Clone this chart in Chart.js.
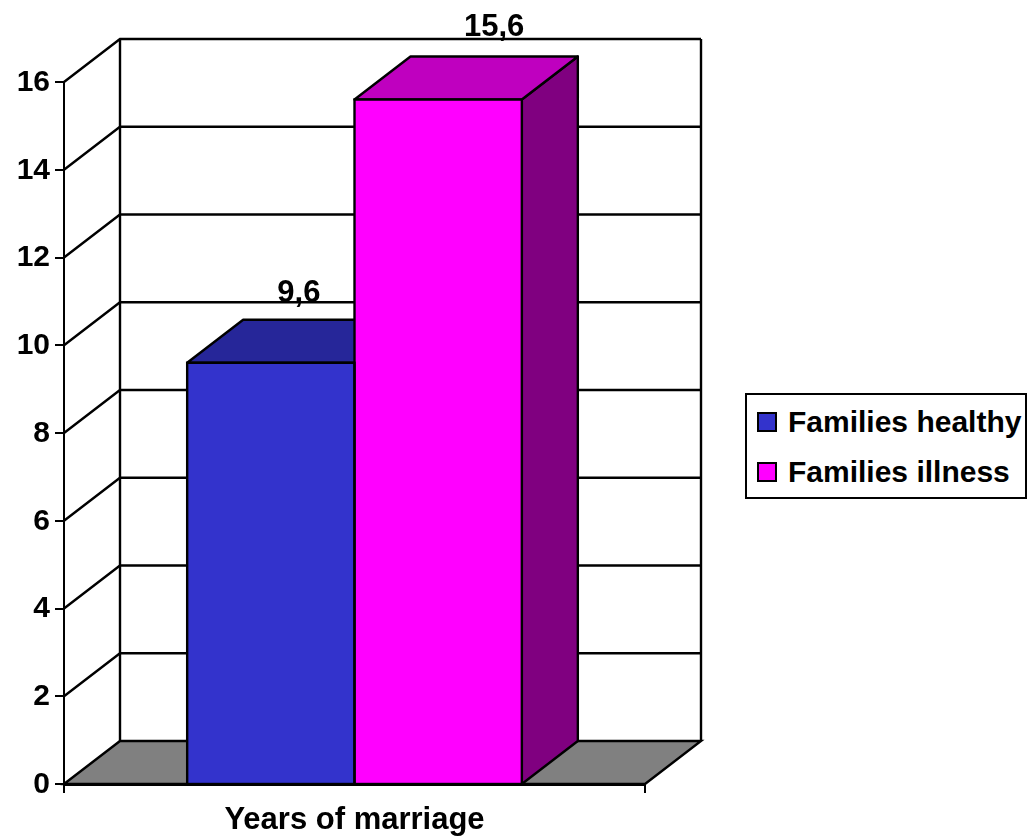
<!DOCTYPE html>
<html>
<head>
<meta charset="utf-8">
<title>Years of marriage</title>
<script src="https://cdn.jsdelivr.net/npm/chart.js@4/dist/chart.umd.min.js"></script>
<style>
  html, body { margin: 0; padding: 0; background: #fff; }
  #wrap { position: relative; width: 1028px; height: 838px; overflow: hidden; }
  canvas { position: absolute; left: 0; top: 0; }
  #legend {
    position: absolute; left: 745px; top: 393px; width: 278px; height: 102px;
    border: 2px solid #000; background: #fff;
    font: bold 30px "Liberation Sans", Arial, sans-serif; color: #000;
  }
  .row { position: absolute; left: 10px; height: 34px; line-height: 34px; white-space: nowrap; }
  .row:nth-child(1) { top: 10px; }
  .row:nth-child(2) { top: 60px; }
  .swatch {
    position: absolute; left: 0; top: 7px; width: 16px; height: 16px;
    border: 2px solid #000;
  }
  .row span.label { position: absolute; left: 31px; top: 0; }
</style>
</head>
<body>
<div id="wrap">
  <canvas id="chart" width="1028" height="838"></canvas>
  <div id="legend"></div>
</div>
<script>
const categories = ["Years of marriage"];
const healthyValues = [9.6];
const illnessValues = [15.6];
const seriesNames = ["Families healthy", "Families illness"];

const frontColors = ["#3333cc", "#ff00ff"];
const topColors = ["#262699", "#bf00bf"];
const sideColors = ["#1a1a66", "#800080"];

const depthX = 56;
const depthY = 43;
// value labels: the blue one is pulled left so the magenta bar doesn't hide it
const labelShiftX = [28, 56];
const labelLiftY = [18, 21];
const fontFamily = '"Liberation Sans", Arial, sans-serif';

function poly(ctx, pts, fill) {
  ctx.beginPath();
  pts.forEach((p, i) => (i ? ctx.lineTo(p[0], p[1]) : ctx.moveTo(p[0], p[1])));
  ctx.closePath();
  if (fill) {
    ctx.fillStyle = fill;
    ctx.fill();
  }
  ctx.stroke();
}

// back wall, side wall and floor sit behind the axes
const walls = {
  id: "walls",
  beforeDraw(chart) {
    const { ctx, scales } = chart;
    const left = scales.x.left;
    const right = scales.x.right;
    const base = scales.y.getPixelForValue(0);
    ctx.save();
    ctx.strokeStyle = "#000";
    ctx.lineWidth = 2.4;
    poly(ctx, [[left, base], [left + depthX, base - depthY], [right + depthX, base - depthY], [right, base]], "#808080");
    scales.y.ticks.forEach((t) => {
      if (t.value === 0) return;
      const y = scales.y.getPixelForValue(t.value);
      ctx.beginPath();
      ctx.moveTo(left, y);
      ctx.lineTo(left + depthX, y - depthY);
      ctx.lineTo(right + depthX, y - depthY);
      ctx.stroke();
    });
    const top = scales.y.getPixelForValue(scales.y.max) - depthY;
    ctx.beginPath();
    ctx.moveTo(left + depthX, top);
    ctx.lineTo(left + depthX, base - depthY);
    ctx.moveTo(right + depthX, top);
    ctx.lineTo(right + depthX, base - depthY);
    ctx.stroke();
    ctx.restore();
  },
  // tops and sides of the bars, the fronts get drawn over them afterwards
  beforeDatasetsDraw(chart) {
    const { ctx, scales } = chart;
    const base = scales.y.getPixelForValue(0);
    ctx.save();
    ctx.strokeStyle = "#000";
    ctx.lineWidth = 2.4;
    ctx.lineJoin = "round";
    chart.data.datasets.forEach((ds, i) => {
      chart.getDatasetMeta(i).data.forEach((bar) => {
        const l = bar.x - bar.width / 2;
        const r = bar.x + bar.width / 2;
        poly(ctx, [[r, bar.y], [r + depthX, bar.y - depthY], [r + depthX, base - depthY], [r, base]], sideColors[i]);
        poly(ctx, [[l, bar.y], [l + depthX, bar.y - depthY], [r + depthX, bar.y - depthY], [r, bar.y]], topColors[i]);
      });
    });
    ctx.restore();
  },
  afterDatasetsDraw(chart) {
    const { ctx, scales } = chart;
    const base = scales.y.getPixelForValue(0);
    ctx.save();
    ctx.strokeStyle = "#000";
    ctx.lineWidth = 2.4;
    ctx.fillStyle = "#000";
    ctx.font = "bold 31px " + fontFamily;
    ctx.textAlign = "center";
    ctx.textBaseline = "alphabetic";
    chart.data.datasets.forEach((ds, i) => {
      chart.getDatasetMeta(i).data.forEach((bar, j) => {
        // outline on the bar's edge so neighbours share one line
        ctx.strokeRect(bar.x - bar.width / 2, bar.y, bar.width, base - bar.y);
        const label = String(ds.data[j]).replace(".", ",");
        ctx.fillText(label, bar.x + labelShiftX[i], bar.y - depthY - labelLiftY[i]);
      });
    });
    ctx.restore();
  },
};

const chart = new Chart(document.getElementById("chart"), {
  type: "bar",
  data: {
    labels: categories,
    datasets: [
      { label: seriesNames[0], data: healthyValues, backgroundColor: frontColors[0], borderWidth: 0 },
      { label: seriesNames[1], data: illnessValues, backgroundColor: frontColors[1], borderWidth: 0 },
    ],
  },
  options: {
    responsive: false,
    animation: false,
    devicePixelRatio: 1,
    layout: { autoPadding: false, padding: { left: 0, top: 82, right: 383, bottom: 0 } },
    datasets: { bar: { barPercentage: 1, categoryPercentage: 0.576 } },
    plugins: { legend: { display: false }, tooltip: { enabled: false } },
    scales: {
      x: {
        afterFit(scale) { scale.height = 54; },
        grid: { drawOnChartArea: false, color: "#000", lineWidth: 2, tickLength: 9 },
        border: { color: "#000", width: 3 },
        ticks: { color: "#000", padding: 9, font: { family: fontFamily, size: 31, weight: "bold" } },
      },
      y: {
        min: 0,
        max: 16,
        afterFit(scale) { scale.width = 64; },
        grid: { drawOnChartArea: false, color: "#000", lineWidth: 2, tickLength: 9 },
        border: { color: "#000", width: 2 },
        ticks: { stepSize: 2, color: "#000", padding: 5, labelOffset: 0.5, font: { family: fontFamily, size: 30, weight: "bold" } },
      },
    },
  },
  plugins: [walls],
});

const legendBox = document.getElementById("legend");
chart.data.datasets.forEach((ds) => {
  const row = document.createElement("div");
  row.className = "row";
  const swatch = document.createElement("div");
  swatch.className = "swatch";
  swatch.style.background = ds.backgroundColor;
  const label = document.createElement("span");
  label.className = "label";
  label.textContent = ds.label;
  row.appendChild(swatch);
  row.appendChild(label);
  legendBox.appendChild(row);
});
</script>
</body>
</html>
